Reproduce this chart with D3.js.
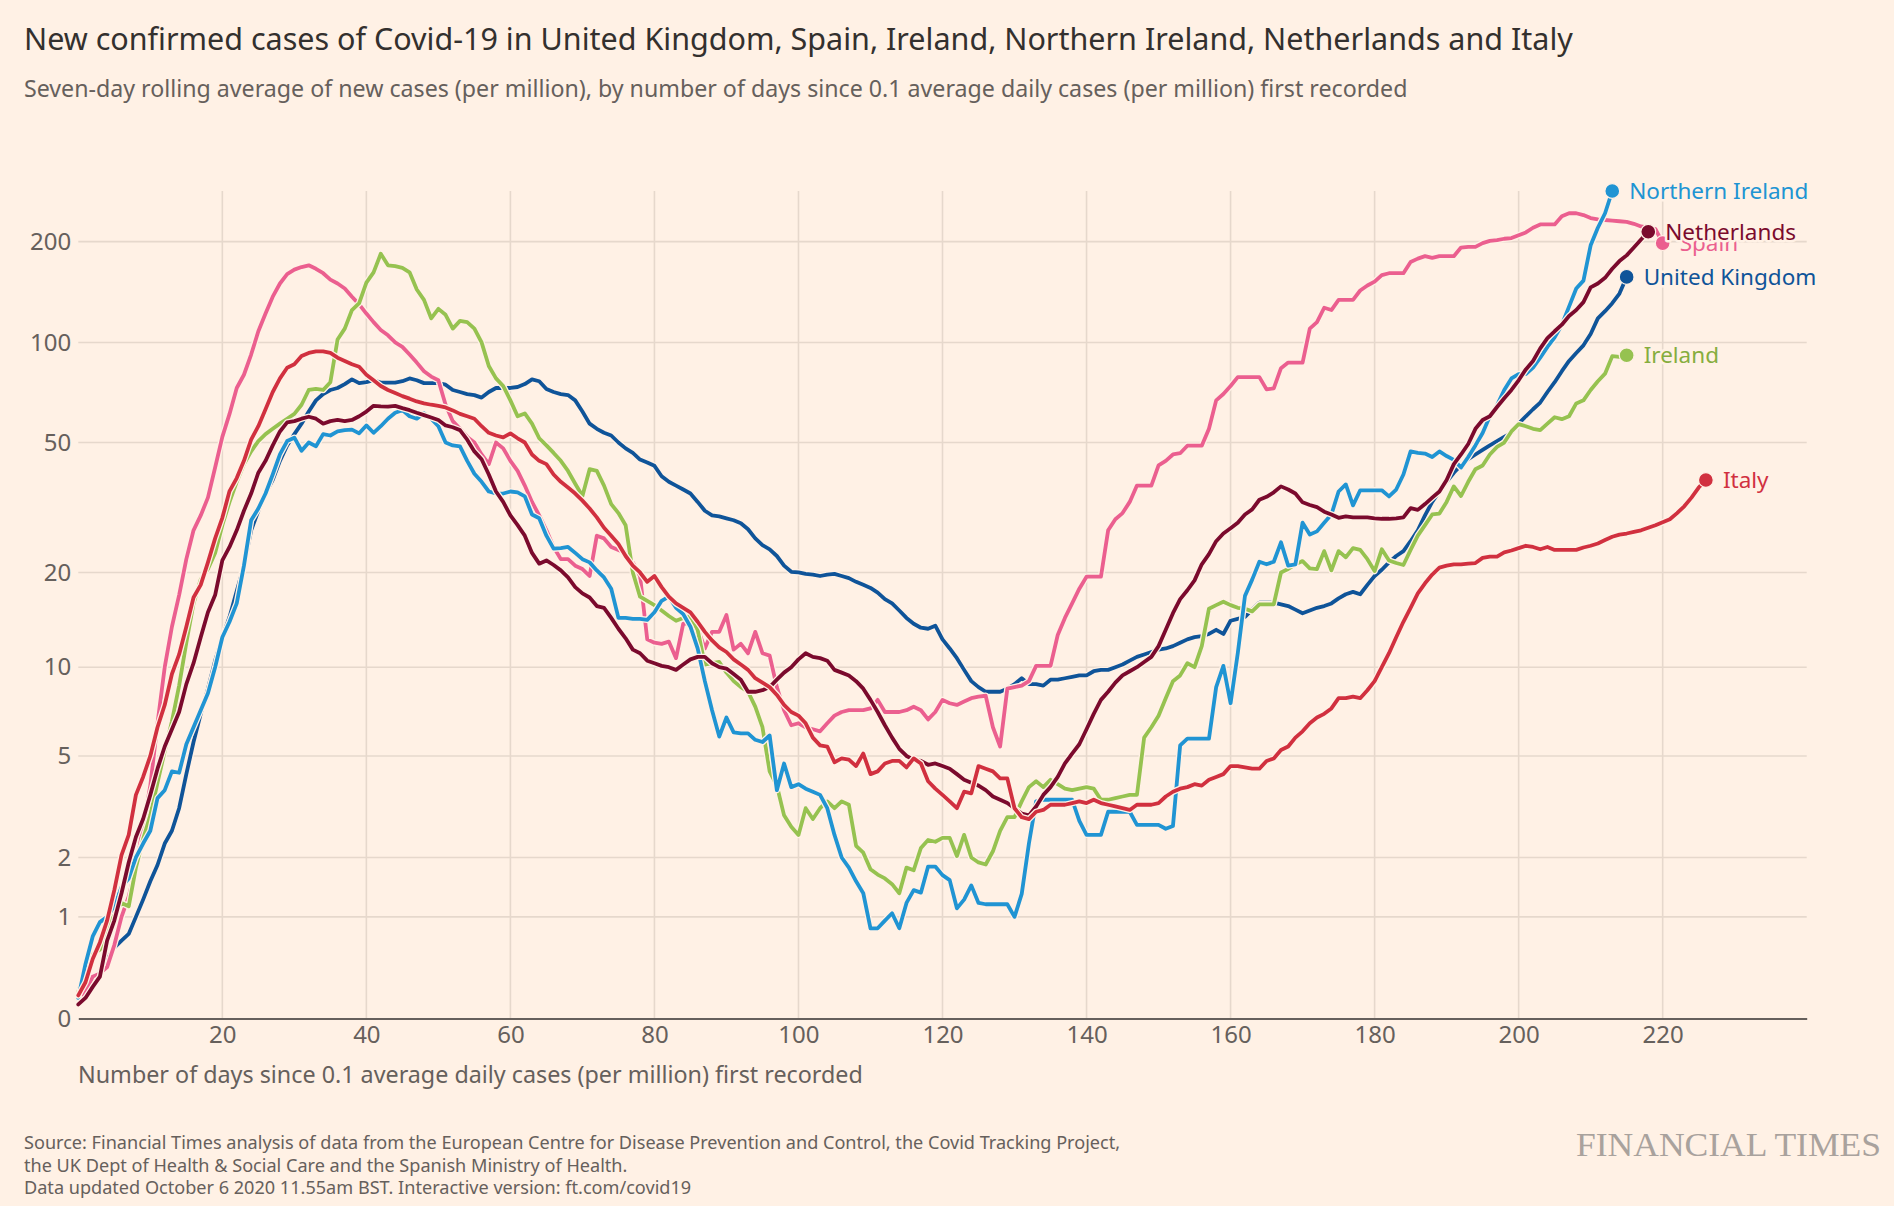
<!DOCTYPE html>
<html>
<head>
<meta charset="utf-8">
<script src="https://cdn.jsdelivr.net/npm/d3@7"></script>
<style>
  html, body { margin: 0; padding: 0; background: #fff1e5; }
  svg { display: block; font-family: "Noto Sans", "Open Sans", sans-serif; }
</style>
</head>
<body>
<svg id="chart" width="1894" height="1206"></svg>
<script>
// ---------------- DATA ----------------
const titleText = "New confirmed cases of Covid-19 in United Kingdom, Spain, Ireland, Northern Ireland, Netherlands and Italy";
const subtitleText = "Seven-day rolling average of new cases (per million), by number of days since 0.1 average daily cases (per million) first recorded";
const xAxisTitle = "Number of days since 0.1 average daily cases (per million) first recorded";
const sourceLines = [
  "Source: Financial Times analysis of data from the European Centre for Disease Prevention and Control, the Covid Tracking Project,",
  "the UK Dept of Health & Social Care and the Spanish Ministry of Health.",
  "Data updated October 6 2020 11.55am BST. Interactive version: ft.com/covid19"
];
const xTicks = [20, 40, 60, 80, 100, 120, 140, 160, 180, 200, 220];
const yTicks = [0, 1, 2, 5, 10, 20, 50, 100, 200];

const seriesNames = ["United Kingdom", "Spain", "Ireland", "Northern Ireland", "Netherlands", "Italy"];

// values indexed by day (0, 1, 2, ...)
const ukValues = [
  0.14,0.18,0.25,0.38,0.5,0.62,0.7,0.78,1.0,1.25,
  1.55,1.85,2.3,2.6,3.2,4.3,5.6,7.0,8.5,10.5,
  12.5,14.5,17.5,21,27,31,35,38.5,44,49,
  53,57,62,67,70,72,73,75,77.5,75.5,
  76,77,75.8,75.8,75.8,76.5,78,77,75.5,75.5,
  75.5,74.7,72,71,70,69.5,68.3,71,73,73,
  73,73.5,75,77.5,76.5,72.5,71,70,69.5,67,
  62,57,55,53.5,52.5,50,48,46.5,44.4,43.5,
  42.5,39.5,38,37,36,35,33,31,30,29.8,
  29.4,29,28.4,27.2,25.5,24.3,23.6,22.5,21,20.1,
  20,19.8,19.7,19.5,19.7,19.8,19.5,19.2,18.7,18.3,
  17.9,17.3,16.5,16,15.2,14.4,13.8,13.4,13.3,13.6,
  12.3,11.5,10.7,9.8,9.0,8.6,8.3,8.3,8.3,8.5,
  8.8,9.2,8.8,8.8,8.7,9.1,9.1,9.2,9.3,9.4,
  9.4,9.7,9.8,9.8,10.0,10.2,10.5,10.8,11.0,11.2,
  11.4,11.5,11.7,12.0,12.3,12.5,12.6,12.8,13.2,12.8,
  14.1,14.3,14.5,15.3,16.1,16.1,16.1,15.9,15.7,15.3,
  14.9,15.2,15.5,15.7,16.0,16.6,17.1,17.4,17.1,18.3,
  19.5,20.4,21.5,22.5,23.3,25,27,30,33,35.5,
  38,40.5,42.7,44.5,46,47.5,49,50.5,52,53.5,
  57,60,63,66,71,76,82,88,93,98,
  106,118,124,131,140,157
];
const spainValues = [
  0.15,0.2,0.33,0.36,0.42,0.65,1.0,1.3,1.8,2.7,
  3.9,6.5,10,13.5,17,22,27,30,34,42,
  52,61,73,80,92,108,122,137,150,160,
  165,168,170,166,161,154,150,145,137,130,
  122,115,109,105,100,97,92,87,82,79,
  77,65,58,55,52,50,46,43,50,48,
  44,41,37,33,30,27,24,22,22,21,
  20.5,19.5,26,25.5,24,23.5,23,21.5,19.5,12.3,
  12,11.9,12.1,10.7,13.8,13.8,13.3,11.5,13,13,
  14.7,11.4,11.9,11.1,13,11.1,10.9,8.6,7.2,6.4,
  6.5,6.3,6.2,6.1,6.5,6.9,7.1,7.2,7.2,7.2,
  7.3,7.8,7.1,7.1,7.1,7.2,7.4,7.2,6.7,7.1,
  7.8,7.6,7.5,7.7,7.9,8.0,8.05,6.3,5.4,8.5,
  8.6,8.7,9.0,10.1,10.1,10.1,12.7,14.4,16,17.8,
  19.4,19.4,19.4,27,29.2,30.5,33,37,37,37,
  42.6,44,46,46.4,48.9,48.9,48.9,55,67,70,
  74,78.7,78.7,78.7,78.7,72.3,72.8,83.7,87,87,
  87,110,115,127,125,134,134,134,143,148,
  152,159,161,161,161,174,178,181,179,181,
  181,181,192,193,193,198,201,202,204,205,
  209,213,220,225,225,225,238,243,243,240,
  235,233,232,231,230,229,226,222,220,218,198
];
const irelandValues = [
  0.2,0.4,0.55,0.6,0.8,1.05,1.2,1.15,1.8,2.4,
  3.0,4.0,5.2,6.6,8.7,12,16,19,20.5,23,
  28,33,38,43,47,50.5,53,55,57,59,
  61,65,72,72.5,72,76,102,110,125,131,
  151,162,184,170,169,167,162,144,134,118,
  126,121,110,116,115,110,100,85,78,74,
  67,60,61.2,57,51.5,49,46.5,44,41,37.5,
  34.4,41.5,41,37,32.5,30.5,28,20,16.8,16.3,
  15.8,15.2,14.6,14.1,14.4,14.6,13.2,10.2,10.3,10.4,
  9.6,9.0,8.6,8.3,7.4,6.3,4.4,3.9,3.0,2.7,
  2.5,3.2,2.9,3.2,3.4,3.2,3.4,3.3,2.25,2.1,
  1.77,1.67,1.6,1.5,1.35,1.8,1.75,2.2,2.38,2.34,
  2.43,2.43,2.03,2.5,2.0,1.9,1.86,2.13,2.6,2.95,
  2.95,3.4,3.85,4.05,3.85,4.1,3.95,3.8,3.75,3.8,
  3.85,3.8,3.45,3.45,3.5,3.55,3.6,3.6,5.8,6.3,
  6.9,7.9,9.0,9.4,10.3,10,11.7,15.4,15.8,16.2,
  15.8,15.5,15.4,15.1,15.9,15.9,15.9,20,20.5,21.2,
  21.7,20.6,20.5,23.3,20.3,23.3,22.3,23.8,23.5,22,
  20.2,23.6,21.8,21.4,21.1,23.5,26,28,30.2,30.4,
  33,36.8,34.4,38,41.5,42.6,46,48.5,50,54,
  56.8,56,55,54.5,57,59.6,58.8,60,65.6,67,
  72,76.5,80.6,91,90.5,91.5
];
const northernIrelandValues = [
  0.15,0.45,0.75,0.93,1.0,1.15,1.45,1.6,2.0,2.3,
  2.6,3.5,3.75,4.4,4.35,5.5,6.3,7.2,8.2,10,
  12.5,14,16,21,29,31.5,35,40,46,50.5,
  51.7,47.2,50,48.7,53,52.5,54,54.5,54.7,53.3,
  56.3,53.5,56,59,61.5,62.6,60,59,61.3,59,
  56,50,49,48.7,44,40.2,38,35.5,35,35,
  35.5,35.3,34.3,30.2,29.4,26,23.7,23.8,24,23,
  22,21.5,20.3,19.3,17.8,14.4,14.4,14.3,14.3,14.2,
  15,16.3,16.8,15.5,14.8,13.5,11.5,9,7.2,5.85,
  6.8,6.05,6.0,6.0,5.7,5.6,5.9,3.75,4.7,3.85,
  3.95,3.8,3.7,3.6,3.2,2.5,2.0,1.8,1.55,1.35,
  0.85,0.85,0.95,1.05,0.85,1.2,1.4,1.36,1.82,1.82,
  1.66,1.57,1.12,1.25,1.48,1.2,1.18,1.18,1.18,1.18,
  1.0,1.34,2.3,3.4,3.45,3.45,3.45,3.45,3.45,2.85,
  2.5,2.5,2.5,3.1,3.1,3.1,3.1,2.75,2.75,2.75,
  2.75,2.65,2.72,5.45,5.75,5.75,5.75,5.75,8.6,10.1,
  7.6,11.1,16.9,19,21.6,21.2,21.6,24.8,21,21.2,
  28.5,26.2,26.8,28.5,30.2,35.5,37.3,32.2,35.8,35.8,
  35.8,35.8,34.3,36,40,47,46.5,46.3,45.2,47,
  45.5,44.3,42,45.2,49,53.4,60,64.8,72,78,
  80.4,80.4,84,90,97,103.5,113,128,145,153,
  195,220,243,283
];
const netherlandsValues = [
  0.1,0.15,0.24,0.33,0.7,0.95,1.35,1.9,2.45,2.9,
  3.6,4.5,5.4,6.2,7.1,8.8,10.3,12.5,15,17,
  21.8,24,27,31,35,40.5,44,49,54,57.5,
  58,59,59.8,59,57,58,58.5,58,58.5,60,
  62,64.5,64.3,64.2,64.5,63.5,62.6,61.5,60.5,59.5,
  58.5,56.3,55.6,54.5,51,47,44.5,40,35.5,33,
  30,28,26,23,21.3,21.8,21.1,20.3,19.3,18,
  17.2,16.7,15.7,15.5,14.4,13.3,12.4,11.4,11.1,10.5,
  10.3,10.1,10.0,9.8,10.2,10.6,10.8,10.8,10.3,10.0,
  9.9,9.5,9.1,8.3,8.3,8.4,8.6,9.1,9.6,10,
  10.6,11.1,10.8,10.7,10.5,9.8,9.6,9.4,9.0,8.5,
  7.8,7.1,6.4,5.8,5.3,5.0,4.85,4.8,4.65,4.7,
  4.6,4.5,4.3,4.1,4.0,3.9,3.75,3.55,3.45,3.35,
  3.2,3.05,3.0,3.25,3.6,3.85,4.2,4.7,5.1,5.5,
  6.2,7.0,7.8,8.3,8.9,9.4,9.7,10,10.4,10.8,
  11.7,13.2,14.9,16.5,17.6,18.9,21.2,22.8,25,26.4,
  27.4,28.5,30.2,31.3,33.5,34.2,35.3,36.8,36,35,
  32.9,32.3,31.8,30.8,30.2,29.5,29.8,29.6,29.6,29.6,
  29.4,29.3,29.3,29.4,29.6,31.6,31.2,32.5,34,35.5,
  38.5,43,46,49.5,55,58.5,60,64,68,72,
  77,83,88,96,103,108,113,120,125,132,
  146,150,156,166,175,182,192,203,214
];
const italyValues = [
  0.17,0.28,0.5,0.68,0.95,1.4,2.05,2.5,3.6,4.2,
  5.0,6.3,7.5,9.5,11,13.5,16.7,18.3,21.5,25.5,
  29.5,35.6,39,44,51,56,63,71,78,84,
  86,91,93,94,94,93,90,88,86,84.5,
  80,77,74,72,70.5,69,67.8,66.5,65.6,65,
  64.5,63.8,62.5,61,60,59,56,53.5,52.5,51.8,
  53.3,51.5,50,46,44,43,40,38,36.5,35,
  33.3,31.5,29.6,27.5,26,24.5,22.5,21,20,18.7,
  19.5,18,16.8,16,15.5,15,14,13,12.2,11.6,
  11.2,10.6,10.2,9.8,9.2,8.9,8.6,8.1,7.5,7.1,
  6.9,6.5,5.8,5.45,5.4,4.75,4.9,4.85,4.6,5.1,
  4.3,4.4,4.7,4.8,4.8,4.55,4.9,4.7,4.05,3.8,
  3.6,3.4,3.2,3.7,3.65,4.6,4.5,4.4,4.15,4.15,
  3.2,2.95,2.9,3.1,3.15,3.3,3.3,3.3,3.35,3.4,
  3.35,3.45,3.35,3.3,3.25,3.2,3.15,3.3,3.3,3.3,
  3.35,3.55,3.7,3.8,3.85,3.95,3.9,4.1,4.2,4.3,
  4.6,4.6,4.55,4.5,4.5,4.8,4.9,5.25,5.4,5.8,
  6.1,6.5,6.8,7.0,7.3,7.9,7.9,8.0,7.9,8.4,
  9.0,10,11.1,12.5,14,15.5,17.2,18.5,19.7,20.7,
  21,21.2,21.2,21.3,21.4,22.2,22.4,22.4,23.1,23.4,
  23.8,24.2,24,23.6,24,23.5,23.5,23.5,23.5,23.9,
  24.2,24.6,25.2,25.8,26.2,26.4,26.7,27,27.5,28,
  28.6,29.2,30.5,32,34,36.5,38.5
];

// ---------------- STYLE ----------------
const seriesColors = {
  "United Kingdom": "#0f5499",
  "Spain": "#eb5f8f",
  "Ireland": "#96c250",
  "Northern Ireland": "#2094d3",
  "Netherlands": "#7b0a2d",
  "Italy": "#d1303f"
};
const labelColors = {
  "United Kingdom": "#0f5499",
  "Spain": "#eb5f8f",
  "Ireland": "#86ad3e",
  "Northern Ireland": "#2094d3",
  "Netherlands": "#7b0a2d",
  "Italy": "#d1303f"
};
const paper = "#fff1e5";

const seriesValues = {
  "United Kingdom": ukValues,
  "Spain": spainValues,
  "Ireland": irelandValues,
  "Northern Ireland": northernIrelandValues,
  "Netherlands": netherlandsValues,
  "Italy": italyValues
};

// ---------------- CHART ----------------
const svg = d3.select("#chart");
svg.append("rect").attr("width", 1894).attr("height", 1206).attr("fill", paper);

const plot = { left: 78.3, right: 1806.7, top: 191, bottom: 1018.4 };
const allValues = [].concat(...seriesNames.map(n => seriesValues[n]));
const yMax = d3.max(allValues);

const x = d3.scaleLinear().domain([0, 240]).range([plot.left, plot.right]);
const y = d3.scaleSymlog().constant(1).domain([0, yMax]).range([plot.bottom, plot.top]);

// title + subtitle
svg.append("text").attr("x", 24).attr("y", 50)
  .style("font-size", "30.5px").attr("fill", "#33302e").text(titleText);
svg.append("text").attr("x", 24).attr("y", 97)
  .style("font-size", "23.2px").attr("fill", "#66605c").text(subtitleText);

// grid
const grid = svg.append("g");
grid.selectAll("line.v").data(xTicks).join("line")
  .attr("x1", d => x(d)).attr("x2", d => x(d))
  .attr("y1", plot.top).attr("y2", plot.bottom)
  .attr("stroke", "#e6d8cc").attr("stroke-width", 1.6);
grid.selectAll("line.h").data(yTicks.filter(d => d > 0)).join("line")
  .attr("x1", plot.left).attr("x2", plot.right)
  .attr("y1", d => y(d)).attr("y2", d => y(d))
  .attr("stroke", "#e6d8cc").attr("stroke-width", 1.6);

// y axis labels
const yAxis = d3.axisLeft(y).tickValues(yTicks).tickFormat(d3.format("d")).tickSize(0).tickPadding(7);
const yG = svg.append("g").attr("transform", `translate(${plot.left},0)`).call(yAxis);
yG.select(".domain").remove();
yG.selectAll("text").style("font-size", "24px").attr("fill", "#66605c")
  .style("font-family", '"Noto Sans", sans-serif');

// x axis
const xAxis = d3.axisBottom(x).tickValues(xTicks).tickFormat(d3.format("d")).tickSize(0).tickPadding(8);
const xG = svg.append("g").attr("transform", `translate(0,${plot.bottom})`).call(xAxis);
xG.select(".domain").attr("stroke", "#66605c").attr("stroke-width", 2);
xG.selectAll("text").style("font-size", "24px").attr("fill", "#66605c")
  .style("font-family", '"Noto Sans", sans-serif');

svg.append("text").attr("x", 78).attr("y", 1083)
  .style("font-size", "23.3px").attr("fill", "#66605c").text(xAxisTitle);

// lines
const line = d3.line().x(d => x(d[0])).y(d => y(d[1]));
const linesG = svg.append("g");
seriesNames.forEach(name => {
  const pts = seriesValues[name].map((v, i) => [i, v]);
  linesG.append("path").datum(pts).attr("d", line)
    .attr("fill", "none").attr("stroke", paper).attr("stroke-width", 6.4)
    .attr("stroke-linejoin", "round").attr("stroke-linecap", "round");
  linesG.append("path").datum(pts).attr("d", line)
    .attr("fill", "none").attr("stroke", seriesColors[name]).attr("stroke-width", 3.8)
    .attr("stroke-linejoin", "round").attr("stroke-linecap", "round");
});

// end dots
seriesNames.forEach(name => {
  const vals = seriesValues[name];
  const i = vals.length - 1;
  svg.append("circle").attr("cx", x(i)).attr("cy", y(vals[i])).attr("r", 7.4)
    .attr("fill", seriesColors[name]).attr("stroke", paper).attr("stroke-width", 1.2);
});

// labels (Spain drawn before Netherlands so its label sits underneath)
const labelOrder = ["United Kingdom", "Ireland", "Italy", "Spain", "Northern Ireland", "Netherlands"];
labelOrder.forEach(name => {
  const vals = seriesValues[name];
  const i = vals.length - 1;
  svg.append("text").attr("x", x(i) + 17).attr("y", y(vals[i]))
    .attr("dy", "0.35em").style("font-size", "22.5px")
    .attr("fill", labelColors[name])
    .attr("stroke", paper).attr("stroke-width", 5).attr("paint-order", "stroke")
    .attr("stroke-linejoin", "round")
    .text(name);
});

// source
svg.append("g").selectAll("text").data(sourceLines).join("text")
  .attr("x", 24).attr("y", (d, i) => 1149 + i * 22.6)
  .style("font-size", "18.1px").attr("fill", "#66605c").text(d => d);

svg.append("text").attr("x", 1576).attr("y", 1156)
  .style("font-family", '"Liberation Serif", "DejaVu Serif", serif')
  .style("font-size", "33px").attr("fill", "#a9a29d")
  .attr("textLength", 305).attr("lengthAdjust", "spacingAndGlyphs")
  .text("FINANCIAL TIMES");
</script>
</body>
</html>
